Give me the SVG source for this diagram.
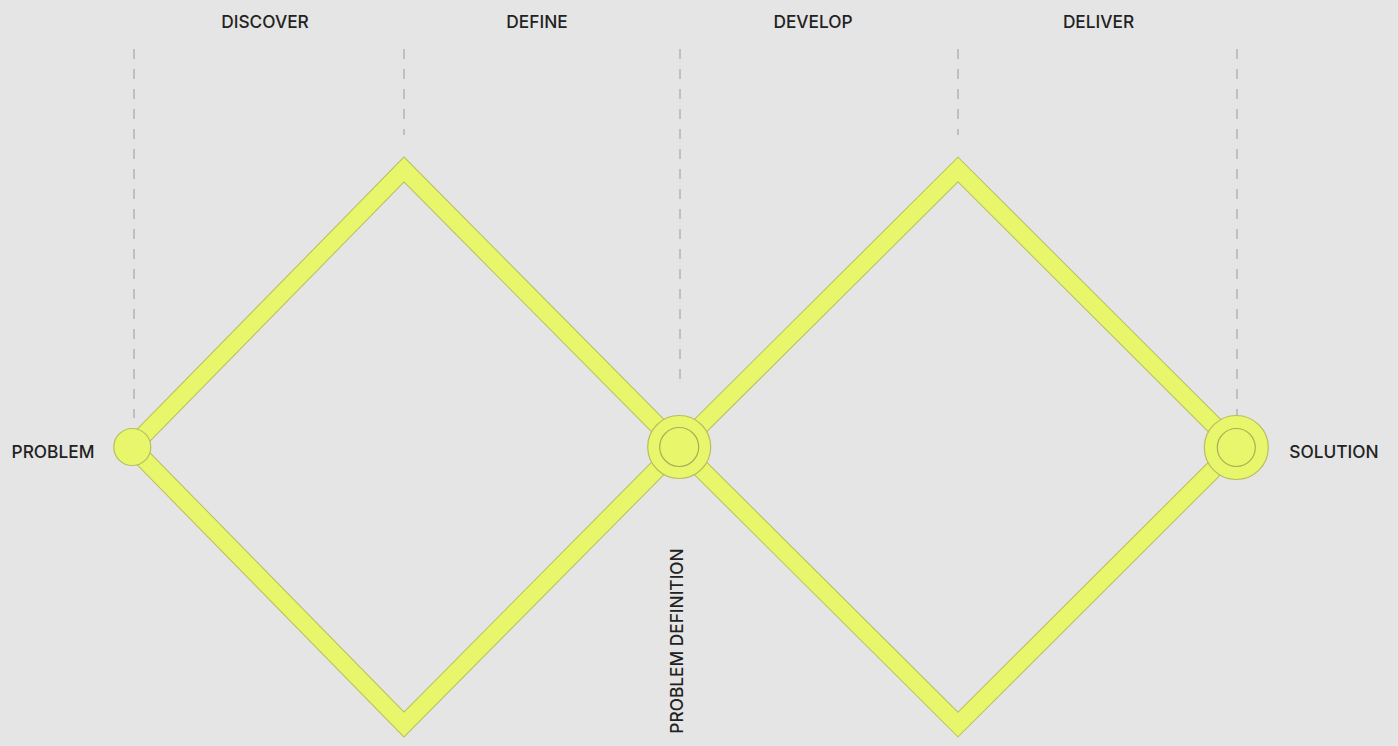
<svg xmlns="http://www.w3.org/2000/svg" width="1398" height="746" viewBox="0 0 1398 746">
  <style>
    .guide { stroke: #9a9a9a; stroke-width: 1; stroke-dasharray: 10 10; fill: none; }
    .band-edge { fill: none; stroke: #b8bf5c; stroke-width: 18.5; stroke-linejoin: miter; stroke-miterlimit: 10; }
    .band { fill: none; stroke: #e8f66c; stroke-width: 16.5; stroke-linejoin: miter; stroke-miterlimit: 10; }
    .node { fill: #e8f66c; stroke: #b8bf5c; stroke-width: 1.2; }
    .inner { fill: none; stroke: #a8ae55; stroke-width: 1.2; }
    .label { font-family: Inter, "Liberation Sans", sans-serif; font-size: 17.3px; font-weight: 500; fill: #222222; }
  </style>
  <rect x="0" y="0" width="1398" height="746" fill="#e5e5e5"/>
  <g id="guides">
    <line class="guide" x1="134" y1="49" x2="134" y2="418"/>
    <line class="guide" x1="404" y1="49" x2="404" y2="135"/>
    <line class="guide" x1="680" y1="49" x2="680" y2="380"/>
    <line class="guide" x1="958" y1="49" x2="958" y2="135"/>
    <line class="guide" x1="1237" y1="49" x2="1237" y2="418"/>
  </g>
  <g id="connectors">
    <polygon class="band-edge" points="132,447 404,169.5 679,447 404,724.5"/>
    <polygon class="band-edge" points="679,447 958,169.5 1236,447 958,724.5"/>
    <polygon class="band" points="132,447 404,169.5 679,447 404,724.5"/>
    <polygon class="band" points="679,447 958,169.5 1236,447 958,724.5"/>
  </g>
  <g id="problem">
    <circle class="node" cx="132.3" cy="447" r="18.5"/>
    <text class="label" x="53" y="457.5" text-anchor="middle">PROBLEM</text>
  </g>
  <g id="problem-definition">
    <circle class="node" cx="679.2" cy="447" r="31.5"/>
    <circle class="inner" cx="679.2" cy="447" r="19.5"/>
    <text class="label" transform="translate(683,641) rotate(-90)" text-anchor="middle">PROBLEM DEFINITION</text>
  </g>
  <g id="solution">
    <circle class="node" cx="1236.3" cy="447.5" r="32"/>
    <circle class="inner" cx="1236.3" cy="447.5" r="19"/>
    <text class="label" x="1334" y="457.5" text-anchor="middle">SOLUTION</text>
  </g>
  <g id="phases">
    <text class="label" x="265" y="27.5" text-anchor="middle">DISCOVER</text>
    <text class="label" x="537" y="27.5" text-anchor="middle">DEFINE</text>
    <text class="label" x="813" y="27.5" text-anchor="middle">DEVELOP</text>
    <text class="label" x="1098.5" y="27.5" text-anchor="middle">DELIVER</text>
  </g>
</svg>
